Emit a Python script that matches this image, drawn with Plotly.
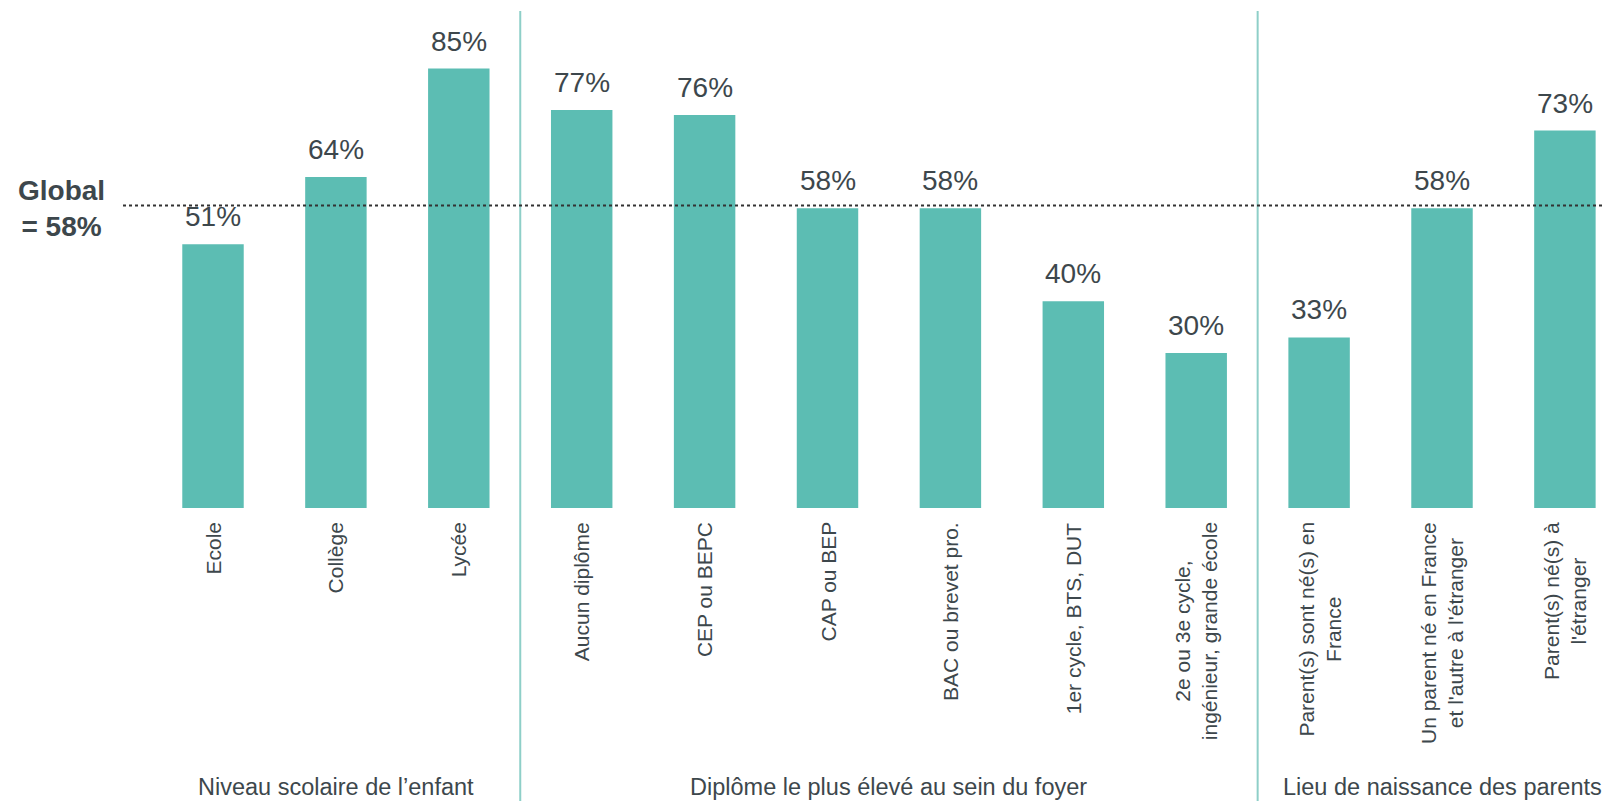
import plotly.graph_objects as go

categories = [
    "Ecole", "Collège", "Lycée",
    "Aucun diplôme", "CEP ou BEPC", "CAP ou BEP", "BAC ou brevet pro.",
    "1er cycle, BTS, DUT", "2e ou 3e cycle,<br>ingénieur, grande école",
    "Parent(s) sont né(s) en<br>France", "Un parent né en France<br>et l'autre à l'étranger",
    "Parent(s) né(s) à<br>l'étranger",
]
values = [51, 64, 85, 77, 76, 58, 58, 40, 30, 33, 58, 73]
value_labels = [f"{v}%" for v in values]
groups = ["Niveau scolaire de l’enfant", "Diplôme le plus élevé au sein du foyer", "Lieu de naissance des parents"]
group_sizes = [3, 6, 3]
global_value = 58
global_label = "Global<br>= 58%"

# page body has an 8px margin: work in screen pixels, convert to figure pixels
OFF = 8
W, H = 1611 - OFF, 801 - OFF
BASE = 508 - OFF          # y pixel of the zero line (figure coords)
T = 2
B = H - BASE
plot_h = H - T - B
px_per_pct = 5.17
ymax = plot_h / px_per_pct
x0_px, step_px = 213 - OFF, 122.9
xmin = -x0_px / step_px
xmax = (W - x0_px) / step_px

BAR = "#5cbdb3"
SEP = "#8ecfc8"
TXT = "#3d474c"
FONT = "Liberation Sans, Arial, sans-serif"

def ypix_to_paper(py_screen):
    return (BASE - (py_screen - OFF)) / plot_h

def xpix_to_paper(px_screen):
    return (px_screen - OFF) / W

xs = list(range(len(categories)))

fig = go.Figure(go.Bar(
    x=xs, y=values, width=0.5, marker=dict(color=BAR, line=dict(width=0)),
    hoverinfo="skip",
))

annotations = []
for x, v, lab in zip(xs, values, value_labels):
    annotations.append(dict(x=x, y=v, xref="x", yref="y", text=lab, showarrow=False,
                            yanchor="bottom", yshift=10,
                            font=dict(family=FONT, size=28, color=TXT)))
for x, c in zip(xs, categories):
    annotations.append(dict(x=x, y=0, xref="x", yref="paper", text=c, showarrow=False,
                            textangle=-90, yanchor="top", xanchor="center", align="center",
                            yshift=-12, font=dict(family=FONT, size=21, color=TXT)))

shapes = []
start = 0
for g, n in zip(groups, group_sizes):
    center = start + (n - 1) / 2
    annotations.append(dict(x=center, y=ypix_to_paper(787), xref="x", yref="paper", text=g,
                            showarrow=False, yanchor="middle",
                            font=dict(family=FONT, size=23.5, color=TXT)))
    end = start + n
    if end < len(categories):
        shapes.append(dict(type="line", xref="x", yref="paper", x0=end - 0.5, x1=end - 0.5,
                           y0=ypix_to_paper(801), y1=ypix_to_paper(11),
                           line=dict(color=SEP, width=2)))
    start = end

shapes.append(dict(type="line", xref="paper", yref="y", x0=xpix_to_paper(123), x1=1,
                   y0=global_value + 0.5, y1=global_value + 0.5,
                   line=dict(color="#333333", width=2, dash="dot"), layer="above"))
annotations.append(dict(x=xpix_to_paper(61), y=global_value, xref="paper", yref="y",
                        text=f"<b>{global_label}</b>", showarrow=False, xanchor="center",
                        yanchor="middle", align="center",
                        font=dict(family=FONT, size=28, color=TXT)))

fig.update_layout(
    width=W, height=H,
    margin=dict(l=0, r=0, t=T, b=B),
    plot_bgcolor="white", paper_bgcolor="white",
    showlegend=False,
    xaxis=dict(range=[xmin, xmax], showticklabels=False, showgrid=False, zeroline=False,
               showline=False, ticks=""),
    yaxis=dict(range=[0, ymax], visible=False, showgrid=False, zeroline=False),
    annotations=annotations,
    shapes=shapes,
)

fig.write_html("out.html")
